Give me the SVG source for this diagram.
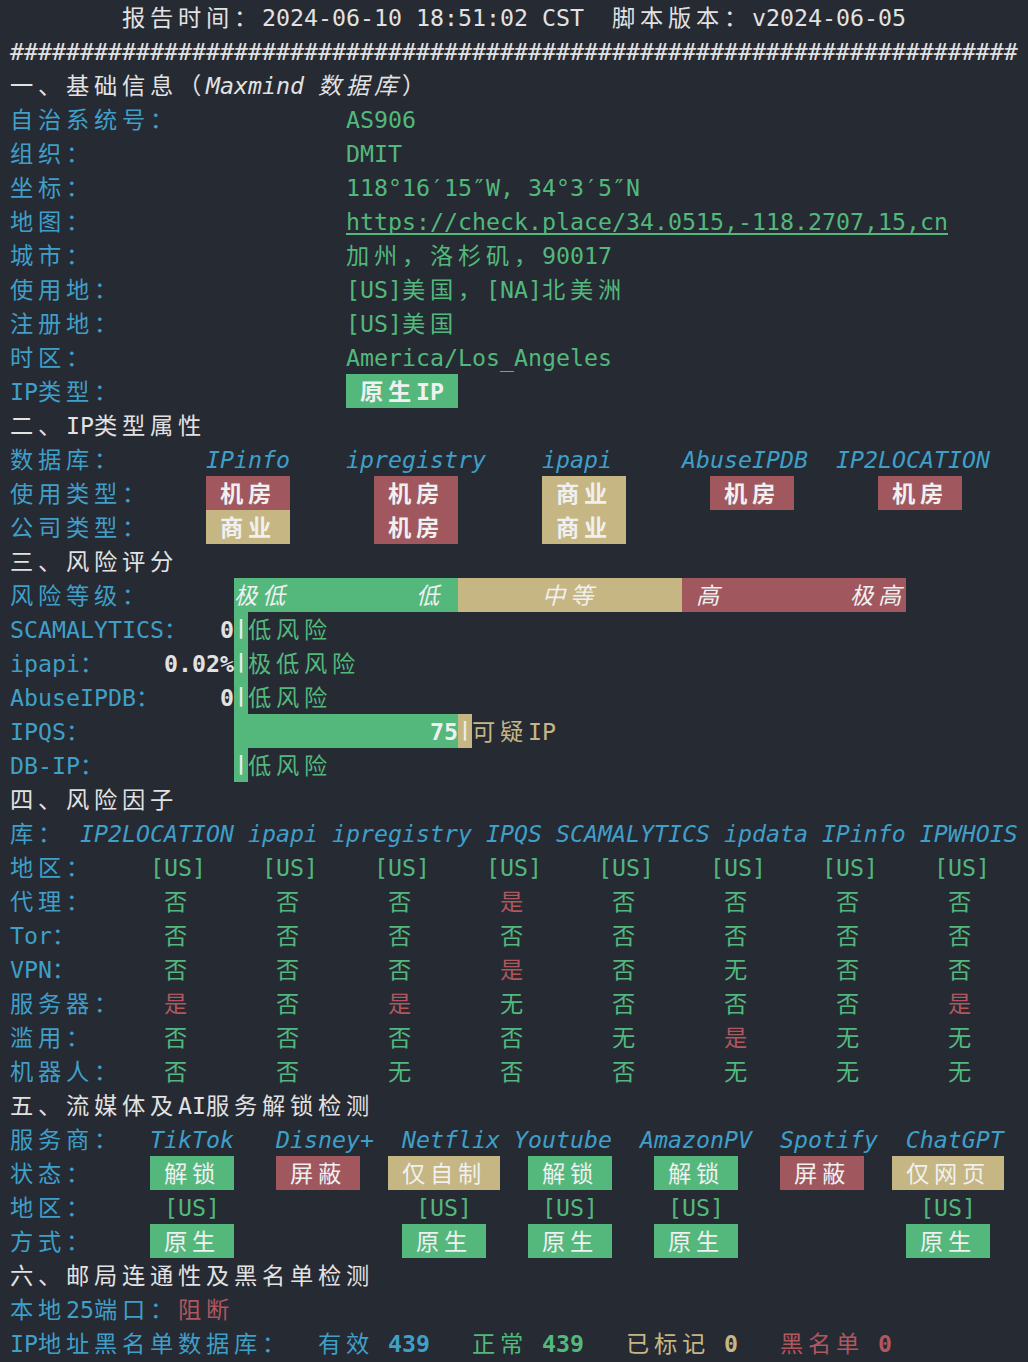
<svg xmlns="http://www.w3.org/2000/svg" width="1028" height="1362" viewBox="0 0 1028 1362">
<style>
text{font-family:"DejaVu Sans Mono","Noto Sans CJK SC",monospace;font-size:23.25px;white-space:pre}
.k{letter-spacing:4.75px}
.w{fill:#e2e2e2}
.b{fill:#3f9fc8}
.g{fill:#52b87c}
.r{fill:#b0575f}
.y{fill:#c6b684}
.i{font-style:italic}
.bd{font-weight:bold}
.l{fill:#f0f0f0}
.bg-g{fill:#54b87d}
.bg-r{fill:#a0575e}
.bg-y{fill:#c5b684}
.bar{font-size:19px;font-weight:bold;fill:#ececec;text-anchor:middle}
</style>
<rect width="1028" height="1362" fill="#262a33"/>

<g id="header">
<text y="26" class="w"><tspan x="122" class="k">报告时间：</tspan><tspan x="262">2024-06-10 18:51:02 CST</tspan><tspan x="612" class="k">脚本版本：</tspan><tspan x="752">v2024-06-05</tspan></text>
<text x="10" y="60" class="w">########################################################################</text>
</g>

<g id="sec1">
<text y="94" class="w"><tspan x="10" class="k">一、基础信息（</tspan><tspan x="206" class="i">Maxmind</tspan><tspan x="318" class="k i">数据库</tspan><tspan x="402" class="k">）</tspan></text>
<text y="128"><tspan x="10" class="k b">自治系统号：</tspan><tspan x="346" class="g">AS906</tspan></text>
<text y="162"><tspan x="10" class="k b">组织：</tspan><tspan x="346" class="g">DMIT</tspan></text>
<text y="196"><tspan x="10" class="k b">坐标：</tspan><tspan class="g" x="346 360 374 388 402 416 430 444 458 472 486 500 514 528 542 556 570 584 598 612 626">118°16′15″W, 34°3′5″N</tspan></text>
<text y="230"><tspan x="10" class="k b">地图：</tspan><tspan x="346" class="g">https://check.place/34.0515,-118.2707,15,cn</tspan></text>
<rect x="346" y="233" width="602" height="2" class="bg-g"/>
<text y="264"><tspan x="10" class="k b">城市：</tspan><tspan x="346" class="k g">加州，洛杉矶，</tspan><tspan x="542" class="g">90017</tspan></text>
<text y="298"><tspan x="10" class="k b">使用地：</tspan><tspan x="346" class="g">[US]</tspan><tspan x="402" class="k g">美国，</tspan><tspan x="486" class="g">[NA]</tspan><tspan x="542" class="k g">北美洲</tspan></text>
<text y="332"><tspan x="10" class="k b">注册地：</tspan><tspan x="346" class="g">[US]</tspan><tspan x="402" class="k g">美国</tspan></text>
<text y="366"><tspan x="10" class="k b">时区：</tspan><tspan x="346" class="g">America/Los_Angeles</tspan></text>
<text y="400"><tspan x="10" class="b">IP</tspan><tspan x="38" class="k b">类型：</tspan></text>
<rect x="346" y="374" width="112" height="34" class="bg-g"/>
<text y="400" class="l bd"><tspan x="360" class="k">原生</tspan><tspan x="416">IP</tspan></text>
</g>

<g id="sec2">
<text y="434" class="w"><tspan x="10" class="k">二、</tspan><tspan x="66">IP</tspan><tspan x="94" class="k">类型属性</tspan></text>
<text y="468" class="b"><tspan x="10" class="k">数据库：</tspan><tspan x="206" class="i">IPinfo</tspan><tspan x="346" class="i">ipregistry</tspan><tspan x="542" class="i">ipapi</tspan><tspan x="682" class="i">AbuseIPDB</tspan><tspan x="836" class="i">IP2LOCATION</tspan></text>
<text y="502" class="k b" x="10">使用类型：</text>
<text y="536" class="k b" x="10">公司类型：</text>
<rect x="206" y="476" width="84" height="34" class="bg-r"/>
<rect x="374" y="476" width="84" height="34" class="bg-r"/>
<rect x="542" y="476" width="84" height="34" class="bg-y"/>
<rect x="710" y="476" width="84" height="34" class="bg-r"/>
<rect x="878" y="476" width="84" height="34" class="bg-r"/>
<rect x="206" y="510" width="84" height="34" class="bg-y"/>
<rect x="374" y="510" width="84" height="34" class="bg-r"/>
<rect x="542" y="510" width="84" height="34" class="bg-y"/>
<text y="502" class="k l bd"><tspan x="220">机房</tspan><tspan x="388">机房</tspan><tspan x="556">商业</tspan><tspan x="724">机房</tspan><tspan x="892">机房</tspan></text>
<text y="536" class="k l bd"><tspan x="220">商业</tspan><tspan x="388">机房</tspan><tspan x="556">商业</tspan></text>
</g>

<g id="sec3">
<text y="570" class="k w" x="10">三、风险评分</text>
<text y="604" class="k b" x="10">风险等级：</text>
<rect x="234" y="578" width="224" height="34" class="bg-g"/>
<rect x="458" y="578" width="224" height="34" class="bg-y"/>
<rect x="682" y="578" width="224" height="34" class="bg-r"/>
<text y="604" class="k i l"><tspan x="234">极低</tspan><tspan x="416">低</tspan><tspan x="542">中等</tspan><tspan x="696">高</tspan><tspan x="850">极高</tspan></text>
<rect x="234" y="612" width="14" height="170" class="bg-g"/>
<rect x="234" y="714" width="224" height="34" class="bg-g"/>
<rect x="458" y="714" width="14" height="34" class="bg-y"/>
<text y="638"><tspan x="10" class="b">SCAMALYTICS</tspan><tspan x="164" class="k b">：</tspan><tspan x="220" class="w bd">0</tspan><tspan x="248" class="k g">低风险</tspan></text>
<text y="672"><tspan x="10" class="b">ipapi</tspan><tspan x="80" class="k b">：</tspan><tspan x="164" class="w bd">0.02%</tspan><tspan x="248" class="k g">极低风险</tspan></text>
<text y="706"><tspan x="10" class="b">AbuseIPDB</tspan><tspan x="136" class="k b">：</tspan><tspan x="220" class="w bd">0</tspan><tspan x="248" class="k g">低风险</tspan></text>
<text y="740"><tspan x="10" class="b">IPQS</tspan><tspan x="66" class="k b">：</tspan><tspan x="430" class="l bd">75</tspan><tspan x="472" class="k y">可疑</tspan><tspan x="528" class="y">IP</tspan></text>
<text y="774"><tspan x="10" class="b">DB-IP</tspan><tspan x="80" class="k b">：</tspan><tspan x="248" class="k g">低风险</tspan></text>
<text class="bar" x="241" y="633.5">|</text>
<text class="bar" x="241" y="667.5">|</text>
<text class="bar" x="241" y="701.5">|</text>
<text class="bar" x="465" y="735.5">|</text>
<text class="bar" x="241" y="769.5">|</text>
</g>

<g id="sec4">
<text y="808" class="k w" x="10">四、风险因子</text>
<text y="842" class="b"><tspan x="10" class="k">库：</tspan><tspan x="80" class="i">IP2LOCATION ipapi ipregistry IPQS SCAMALYTICS ipdata IPinfo IPWHOIS</tspan></text>
<text y="876"><tspan x="10" class="k b">地区：</tspan><tspan class="g" x="150">[US]</tspan><tspan class="g" x="262">[US]</tspan><tspan class="g" x="374">[US]</tspan><tspan class="g" x="486">[US]</tspan><tspan class="g" x="598">[US]</tspan><tspan class="g" x="710">[US]</tspan><tspan class="g" x="822">[US]</tspan><tspan class="g" x="934">[US]</tspan></text>
<text y="910"><tspan x="10" class="k b">代理：</tspan><tspan class="g" x="164">否</tspan><tspan class="g" x="276">否</tspan><tspan class="g" x="388">否</tspan><tspan class="r" x="500">是</tspan><tspan class="g" x="612">否</tspan><tspan class="g" x="724">否</tspan><tspan class="g" x="836">否</tspan><tspan class="g" x="948">否</tspan></text>
<text y="944"><tspan x="10" class="b">Tor</tspan><tspan x="52" class="k b">：</tspan><tspan class="g" x="164">否</tspan><tspan class="g" x="276">否</tspan><tspan class="g" x="388">否</tspan><tspan class="g" x="500">否</tspan><tspan class="g" x="612">否</tspan><tspan class="g" x="724">否</tspan><tspan class="g" x="836">否</tspan><tspan class="g" x="948">否</tspan></text>
<text y="978"><tspan x="10" class="b">VPN</tspan><tspan x="52" class="k b">：</tspan><tspan class="g" x="164">否</tspan><tspan class="g" x="276">否</tspan><tspan class="g" x="388">否</tspan><tspan class="r" x="500">是</tspan><tspan class="g" x="612">否</tspan><tspan class="g" x="724">无</tspan><tspan class="g" x="836">否</tspan><tspan class="g" x="948">否</tspan></text>
<text y="1012"><tspan x="10" class="k b">服务器：</tspan><tspan class="r" x="164">是</tspan><tspan class="g" x="276">否</tspan><tspan class="r" x="388">是</tspan><tspan class="g" x="500">无</tspan><tspan class="g" x="612">否</tspan><tspan class="g" x="724">否</tspan><tspan class="g" x="836">否</tspan><tspan class="r" x="948">是</tspan></text>
<text y="1046"><tspan x="10" class="k b">滥用：</tspan><tspan class="g" x="164">否</tspan><tspan class="g" x="276">否</tspan><tspan class="g" x="388">否</tspan><tspan class="g" x="500">否</tspan><tspan class="g" x="612">无</tspan><tspan class="r" x="724">是</tspan><tspan class="g" x="836">无</tspan><tspan class="g" x="948">无</tspan></text>
<text y="1080"><tspan x="10" class="k b">机器人：</tspan><tspan class="g" x="164">否</tspan><tspan class="g" x="276">否</tspan><tspan class="g" x="388">无</tspan><tspan class="g" x="500">否</tspan><tspan class="g" x="612">否</tspan><tspan class="g" x="724">无</tspan><tspan class="g" x="836">无</tspan><tspan class="g" x="948">无</tspan></text>
</g>

<g id="sec5">
<text y="1114" class="w"><tspan x="10" class="k">五、流媒体及</tspan><tspan x="178">AI</tspan><tspan x="206" class="k">服务解锁检测</tspan></text>
<text y="1148" class="b"><tspan x="10" class="k">服务商：</tspan><tspan x="150" class="i">TikTok   Disney+  Netflix Youtube  AmazonPV  Spotify  ChatGPT</tspan></text>
<text y="1182" class="k b" x="10">状态：</text>
<text y="1216" class="k b" x="10">地区：</text>
<text y="1250" class="k b" x="10">方式：</text>
<rect x="150" y="1156" width="84" height="34" class="bg-g"/>
<rect x="276" y="1156" width="84" height="34" class="bg-r"/>
<rect x="388" y="1156" width="112" height="34" class="bg-y"/>
<rect x="528" y="1156" width="84" height="34" class="bg-g"/>
<rect x="654" y="1156" width="84" height="34" class="bg-g"/>
<rect x="780" y="1156" width="84" height="34" class="bg-r"/>
<rect x="892" y="1156" width="112" height="34" class="bg-y"/>
<text y="1182" class="k l"><tspan x="164">解锁</tspan><tspan x="290">屏蔽</tspan><tspan x="402">仅自制</tspan><tspan x="542">解锁</tspan><tspan x="668">解锁</tspan><tspan x="794">屏蔽</tspan><tspan x="906">仅网页</tspan></text>
<text y="1216" class="g"><tspan x="164">[US]</tspan><tspan x="416">[US]</tspan><tspan x="542">[US]</tspan><tspan x="668">[US]</tspan><tspan x="920">[US]</tspan></text>
<rect x="150" y="1224" width="84" height="34" class="bg-g"/>
<rect x="402" y="1224" width="84" height="34" class="bg-g"/>
<rect x="528" y="1224" width="84" height="34" class="bg-g"/>
<rect x="654" y="1224" width="84" height="34" class="bg-g"/>
<rect x="906" y="1224" width="84" height="34" class="bg-g"/>
<text y="1250" class="k l"><tspan x="164">原生</tspan><tspan x="416">原生</tspan><tspan x="542">原生</tspan><tspan x="668">原生</tspan><tspan x="920">原生</tspan></text>
</g>

<g id="sec6">
<text y="1284" class="k w" x="10">六、邮局连通性及黑名单检测</text>
<text y="1318"><tspan x="10" class="k b">本地</tspan><tspan x="66" class="b">25</tspan><tspan x="94" class="k b">端口：</tspan><tspan x="178" class="k r">阻断</tspan></text>
<text y="1352"><tspan x="10" class="b">IP</tspan><tspan x="38" class="k b">地址黑名单数据库：</tspan><tspan x="318" class="k b">有效</tspan><tspan x="388" class="b bd">439</tspan><tspan x="472" class="k g">正常</tspan><tspan x="542" class="g bd">439</tspan><tspan x="626" class="k y">已标记</tspan><tspan x="724" class="y bd">0</tspan><tspan x="780" class="k r">黑名单</tspan><tspan x="878" class="r bd">0</tspan></text>
</g>
</svg>
